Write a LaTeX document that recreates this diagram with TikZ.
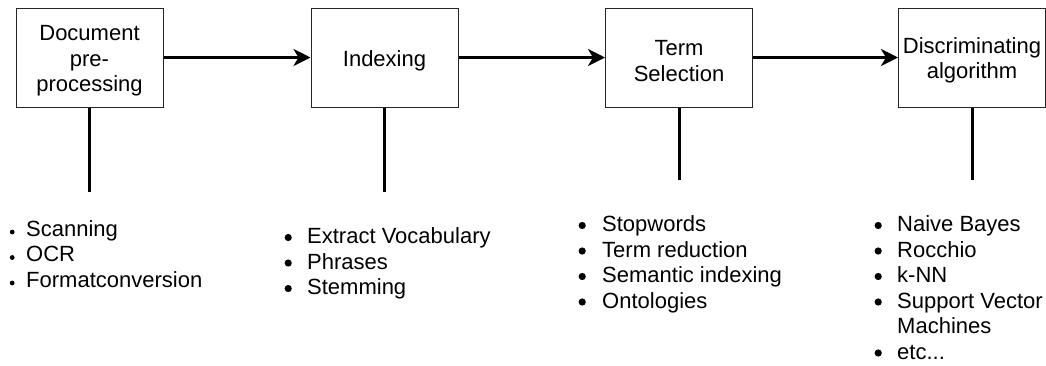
\documentclass[tikz,border=0pt]{standalone}
\usepackage{fontspec}
\setmainfont{Liberation Sans}
\usetikzlibrary{arrows.meta}

% list bullets: a small dot for the first list, larger dots for the others
\newcommand\smalldot{\makebox[0pt]{\tikz[baseline=0pt]\fill (0pt,4pt) circle (2.4pt);}}
\newcommand\bigdot{\makebox[0pt]{\tikz[baseline=0pt]\fill (0pt,6pt) circle (3.6pt);}}
% extra room above the first line of a stage label
\newcommand\topgap{\rule{0pt}{22pt}}

\begin{document}
\begin{tikzpicture}[x=1pt,y=-1pt,
  stagebox/.style={draw=black!85, line width=1pt, minimum width=147pt,
    minimum height=99pt, inner sep=0pt, align=center,
    font=\fontsize{22}{25.5}\selectfont},
  flow/.style={line width=3pt, -{Stealth[length=17pt,width=17pt,inset=5pt]}},
  stem/.style={line width=3pt},
  itemlist/.style={anchor=base west, inner sep=0pt,
    font=\fontsize{22}{25.5}\selectfont}]

\useasboundingbox (0,0) rectangle (1046,365);

% processing stages
\node[stagebox] (b1) at (89.5,57.5) {\topgap Document\\pre-\\processing};
\node[stagebox] (b2) at (384.5,57.5) {\topgap Indexing};
\node[stagebox] (b3) at (679,57.5) {\topgap Term\\Selection};
\node[stagebox] (b4) at (972,57.5) {\topgap Discriminating\\algorithm};

% flow between stages
\draw[flow] (b1.east) -- (b2.west);
\draw[flow] (b2.east) -- (b3.west);
\draw[flow] (b3.east) -- (b4.west);

% stems down to the lists
\coordinate (e1) at (89.5,192);
\coordinate (e2) at (384.5,192);
\coordinate (e3) at (679,180);
\coordinate (e4) at (972,180);
\draw[stem] (b1.south) -- (e1);
\draw[stem] (b2.south) -- (e2);
\draw[stem] (b3.south) -- (e3);
\draw[stem] (b4.south) -- (e4);

% method lists
\node[itemlist] (l1) at (12,236) {\begin{tabular}[t]{@{}l@{}}
  \smalldot\hspace{14pt}Scanning\\
  \smalldot\hspace{14pt}OCR\\
  \smalldot\hspace{14pt}Formatconversion
\end{tabular}};

\node[itemlist] (l2) at (288,243.5) {\begin{tabular}[t]{@{}l@{}}
  \bigdot\hspace{19pt}Extract Vocabulary\\
  \bigdot\hspace{19pt}Phrases\\
  \bigdot\hspace{19pt}Stemming
\end{tabular}};

\node[itemlist] (l3) at (582,231.5) {\begin{tabular}[t]{@{}l@{}}
  \bigdot\hspace{20pt}Stopwords\\
  \bigdot\hspace{20pt}Term reduction\\
  \bigdot\hspace{20pt}Semantic indexing\\
  \bigdot\hspace{20pt}Ontologies
\end{tabular}};

\node[itemlist] (l4) at (878,231.5) {\begin{tabular}[t]{@{}l@{}}
  \bigdot\hspace{19pt}Naive Bayes\\
  \bigdot\hspace{19pt}Rocchio\\
  \bigdot\hspace{19pt}k-NN\\
  \bigdot\hspace{19pt}Support Vector\\
  \hspace{19pt}Machines\\
  \bigdot\hspace{19pt}etc...
\end{tabular}};

\end{tikzpicture}
\end{document}
